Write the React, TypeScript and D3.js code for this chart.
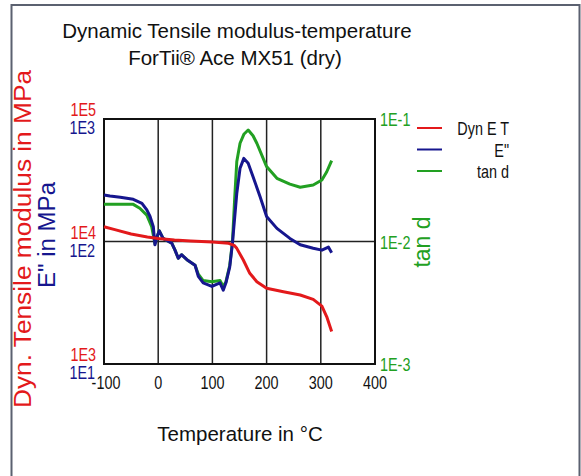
import React from 'react';
import * as d3 from 'd3';

// temperatures in °C
const redTemps = [-100, -80, -50, -20, 0, 30, 60, 100, 130, 140, 145, 157, 169, 182, 200, 231, 262, 286, 302, 311, 320];
const redValues = [13200, 12500, 11500, 10900, 10600, 10300, 10100, 9900, 9670, 9300, 8790, 7060, 5500, 4700, 4150, 3890, 3660, 3370, 2970, 2430, 1840];

const blueTemps = [-100, -89, -70, -46, -30, -21, -15, -9, -6, -2, 2, 9, 25, 31, 37, 43, 53, 68, 74, 83, 99, 114, 120, 125, 132, 137, 145, 151, 158, 166, 175, 188, 200, 219, 243, 262, 286, 302, 314, 320];
const blueValues = [240, 235, 230, 221, 205, 181, 160, 132, 94, 110, 122, 106, 97, 85, 73, 78, 71, 64, 52, 46, 43, 46, 40, 46, 62, 97, 247, 396, 477, 435, 338, 232, 160, 128, 106, 94, 88, 85, 90, 81];

const greenTemps = [-100, -46, -34, -21, -12, -6, -2, 2, 9, 25, 31, 37, 43, 53, 68, 74, 83, 99, 114, 120, 125, 132, 137, 141, 145, 151, 158, 166, 175, 182, 200, 219, 243, 262, 286, 302, 311, 320];
const greenValues = [0.0201, 0.0201, 0.0187, 0.0164, 0.0132, 0.0096, 0.011, 0.0122, 0.0106, 0.0097, 0.0085, 0.0073, 0.0078, 0.0071, 0.0064, 0.0054, 0.0048, 0.0047, 0.0048, 0.0043, 0.0047, 0.0064, 0.0099, 0.022, 0.045, 0.0634, 0.075, 0.0813, 0.073, 0.0634, 0.0409, 0.0328, 0.0294, 0.0277, 0.0289, 0.0318, 0.0371, 0.0457];

const xTicks = [-100, 0, 100, 200, 300, 400];
const redTicks = [1e3, 1e4, 1e5];
const redTickLabels = ['1E3', '1E4', '1E5'];
const blueTicks = [1e1, 1e2, 1e3];
const blueTickLabels = ['1E1', '1E2', '1E3'];
const greenTicks = [1e-3, 1e-2, 1e-1];
const greenTickLabels = ['1E-3', '1E-2', '1E-1'];
const legendNames = ['Dyn E T', 'E"', 'tan d'];

const RED = '#e3191b';
const BLUE = '#16168e';
const GREEN = '#22a022';
const FONT = '"Liberation Sans", Arial, sans-serif';

const left = 104, right = 375, top = 119, bottom = 364;

const x = d3.scaleLinear().domain([-100, 400]).range([left, right]);
const yRed = d3.scaleLog().domain([1e3, 1e5]).range([bottom, top]);
const yBlue = d3.scaleLog().domain([1e1, 1e3]).range([bottom, top]);
const yGreen = d3.scaleLog().domain([1e-3, 1e-1]).range([bottom, top]);

const mkLine = (ys: d3.ScaleLogarithmic<number, number>) =>
  d3.line<[number, number]>().x(d => x(d[0])).y(d => ys(d[1]));

// narrow-looking labels like the original plotting program
const Narrow = ({ x: tx, y: ty, anchor, fill, size = 18, children }: any) => (
  <text
    transform={`translate(${tx},${ty}) scale(0.8,1)`}
    textAnchor={anchor}
    fill={fill}
    fontSize={size}
    fontFamily={FONT}
  >
    {children}
  </text>
);

export default function App() {
  const redPath = mkLine(yRed)(redTemps.map((t, i) => [t, redValues[i]]));
  const bluePath = mkLine(yBlue)(blueTemps.map((t, i) => [t, blueValues[i]]));
  const greenPath = mkLine(yGreen)(greenTemps.map((t, i) => [t, greenValues[i]]));
  const legendColors = [RED, BLUE, GREEN];

  return (
    <svg width={581} height={476} style={{ position: 'absolute', left: 0, top: 0, background: '#fff' }}>
      {/* outer frame, no bottom edge */}
      <path d="M11.5,476 V5 H579.5 V476" fill="none" stroke="#5b6170" strokeWidth={2} />

      <text x={237} y={38} textAnchor="middle" fontSize={20.5} fontFamily={FONT} fill="#111">
        Dynamic Tensile modulus-temperature
      </text>
      <text x={235} y={65} textAnchor="middle" fontSize={20.5} fontFamily={FONT} fill="#111">
        ForTii® Ace MX51 (dry)
      </text>

      {/* grid */}
      {xTicks.slice(1, -1).map(t => (
        <line key={t} x1={x(t)} x2={x(t)} y1={top} y2={bottom} stroke="#222" strokeWidth={1.5} />
      ))}
      <line x1={left} x2={right} y1={yRed(1e4)} y2={yRed(1e4)} stroke="#222" strokeWidth={1.5} />
      <rect x={left} y={top} width={right - left} height={bottom - top} fill="none" stroke="#111" strokeWidth={2} />

      {/* curves */}
      <path d={greenPath || ''} fill="none" stroke={GREEN} strokeWidth={3} strokeLinejoin="round" />
      <path d={bluePath || ''} fill="none" stroke={BLUE} strokeWidth={3} strokeLinejoin="round" />
      <path d={redPath || ''} fill="none" stroke={RED} strokeWidth={3} strokeLinejoin="round" />

      {/* left tick labels */}
      {redTicks.map((v, i) => (
        <Narrow key={'r' + v} x={96} y={yRed(v) - 3} anchor="end" fill={RED}>{redTickLabels[i]}</Narrow>
      ))}
      {blueTicks.map((v, i) => (
        <Narrow key={'b' + v} x={95} y={yBlue(v) + 15} anchor="end" fill={BLUE}>{blueTickLabels[i]}</Narrow>
      ))}
      {/* right tick labels */}
      {greenTicks.map((v, i) => (
        <Narrow key={'g' + v} x={380} y={yGreen(v) + 7} anchor="start" fill={GREEN}>{greenTickLabels[i]}</Narrow>
      ))}
      {/* x tick labels */}
      {xTicks.map(t => (
        <Narrow key={'x' + t} x={x(t) + (t < 0 ? 2 : 0)} y={389} anchor="middle" fill="#111">{t}</Narrow>
      ))}

      <text x={240} y={441} textAnchor="middle" fontSize={20.5} fontFamily={FONT} fill="#111">
        Temperature in °C
      </text>

      <text transform="translate(31,239) rotate(-90)" textAnchor="middle" fontSize={23} fontFamily={FONT} fill={RED}
        textLength={338} lengthAdjust="spacingAndGlyphs">
        Dyn. Tensile modulus in MPa
      </text>
      <text transform="translate(55,235) rotate(-90)" textAnchor="middle" fontSize={23} fontFamily={FONT} fill={BLUE}
        textLength={106} lengthAdjust="spacingAndGlyphs">
        E" in MPa
      </text>
      <text transform="translate(430,242) rotate(-90)" textAnchor="middle" fontSize={23} fontFamily={FONT} fill={GREEN}>
        tan d
      </text>

      {/* legend */}
      {legendNames.map((name, i) => (
        <g key={name}>
          <line x1={417} x2={442} y1={128 + i * 21.5} y2={128 + i * 21.5} stroke={legendColors[i]} strokeWidth={2} />
          <Narrow x={509} y={135 + i * 21.5} anchor="end" fill="#111">{name}</Narrow>
        </g>
      ))}
    </svg>
  );
}
